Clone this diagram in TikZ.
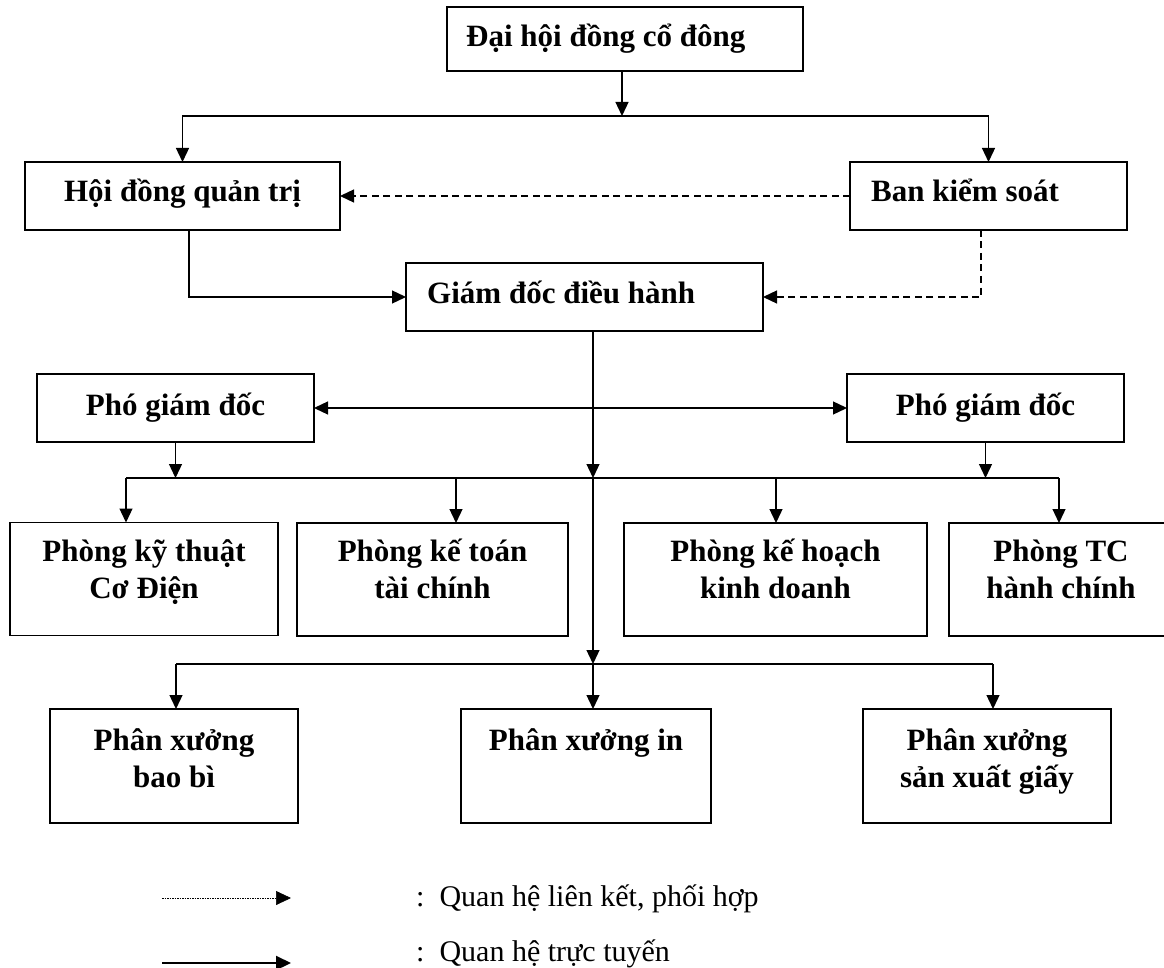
\documentclass[tikz,border=0pt]{standalone}
\usepackage{fontspec}
\setmainfont{Liberation Serif}
\usetikzlibrary{arrows.meta}
\begin{document}
\begin{tikzpicture}[x=1pt,y=-1pt,
  box/.style={draw, line width=1.5pt, inner sep=0pt, outer sep=0pt},
  lbl/.style={font=\bfseries\fontsize{31}{37}\selectfont, inner sep=0pt, anchor=base},
  lgd/.style={font=\fontsize{30}{36}\selectfont, inner sep=0pt, anchor=base west},
  conn/.style={line width=1.3pt},
  arr/.style={conn, -{Triangle[length=14pt,width=13pt]}},
  darr/.style={arr, dash pattern=on 7pt off 4.5pt}]
\useasboundingbox (0,0) rectangle (1164,968);

% boxes
\node[box, minimum width=356pt, minimum height=64pt] (A) at (625,39) {};
\node[box, minimum width=315pt, minimum height=68pt] (B) at (182.5,196) {};
\node[box, minimum width=277pt, minimum height=68pt] (C) at (988.5,196) {};
\node[box, minimum width=357pt, minimum height=68pt] (D) at (584.5,297) {};
\node[box, minimum width=277pt, minimum height=68pt] (E) at (175.5,408) {};
\node[box, minimum width=277pt, minimum height=68pt] (F) at (985.5,408) {};
\node[box, minimum width=268pt, minimum height=113pt] (G1) at (144,579) {};
\node[box, minimum width=271pt, minimum height=113pt] (G2) at (432.5,579.5) {};
\node[box, minimum width=303pt, minimum height=113pt] (G3) at (775.5,579.5) {};
\node[box, minimum width=224pt, minimum height=113pt] (G4) at (1061,579.5) {};
\node[box, minimum width=248pt, minimum height=114pt] (H1) at (174,766) {};
\node[box, minimum width=250pt, minimum height=114pt] (H2) at (586,766) {};
\node[box, minimum width=248pt, minimum height=114pt] (H3) at (987,766) {};

% texts
\node[lbl, anchor=base west] (tA) at (466,47) {Đại hội đồng cổ đông};
\node[lbl] (tB) at (182.5,202) {Hội đồng quản trị};
\node[lbl, anchor=base west] (tC) at (871,202) {Ban kiểm soát};
\node[lbl, anchor=base west] (tD) at (427,303) {Giám đốc điều hành};
\node[lbl] (tE) at (175.5,415) {Phó giám đốc};
\node[lbl] (tF) at (985.5,415) {Phó giám đốc};
\node[lbl] (tG1a) at (144,561) {Phòng kỹ thuật};
\node[lbl] (tG1b) at (144,598) {Cơ Điện};
\node[lbl] (tG2a) at (432.5,561) {Phòng kế toán};
\node[lbl] (tG2b) at (432.5,598) {tài chính};
\node[lbl] (tG3a) at (775.5,561) {Phòng kế hoạch};
\node[lbl] (tG3b) at (775.5,598) {kinh doanh};
\node[lbl] (tG4a) at (1061,561) {Phòng TC};
\node[lbl] (tG4b) at (1061,598) {hành chính};
\node[lbl] (tH1a) at (174,750) {Phân xưởng};
\node[lbl] (tH1b) at (174,787) {bao bì};
\node[lbl] (tH2a) at (586,750) {Phân xưởng in};
\node[lbl] (tH3a) at (987,750) {Phân xưởng};
\node[lbl] (tH3b) at (987,787) {sản xuất giấy};

% junctions
\coordinate (j0) at (622,116);
\coordinate (j1) at (593,478);
\coordinate (j2) at (593,664);
\coordinate (m) at (586,408);
\coordinate (b1L) at (126,478);
\coordinate (b1R) at (1059,478);
\coordinate (b2L) at (176,664);
\coordinate (b2R) at (993,664);

% top level
\draw[arr] (A.south -| j0) -- (j0);
\draw[arr] (j0) -| (B.north);
\draw[arr] (j0) -| (C.north);
\draw[darr] (C.west) -- (B.east);
\draw[arr] ([xshift=6.5pt]B.south) |- (D.west);
\draw[darr] ([xshift=-7.5pt]C.south) |- (D.east);

% director to deputies
\draw[arr] (D.south -| j1) -- (j1);
\draw[arr] (m) -- (E.east);
\draw[arr] (m) -- (F.west);
\draw[arr] (E.south) -- (E.south |- b1L);
\draw[arr] (F.south) -- (F.south |- b1L);

% bus 1 to departments
\draw[conn] (b1L) -- (b1R);
\draw[arr] (b1L) -- (b1L |- G1.north);
\draw[arr] (456,478) -- (456,523);
\draw[arr] (776,478) -- (776,523);
\draw[arr] (b1R) -- (b1R |- G4.north);

% to workshops
\draw[arr] (j1) -- (j2);
\draw[conn] (b2L) -- (b2R);
\draw[arr] (b2L) -- (b2L |- H1.north);
\draw[arr] (j2) -- (j2 |- H2.north);
\draw[arr] (b2R) -- (b2R |- H3.north);

% legend
\coordinate (l1a) at (162,898);
\coordinate (l1b) at (291,898);
\coordinate (l2a) at (162,963);
\coordinate (l2b) at (291,963);
\draw[line width=0.7pt, dash pattern=on 1.5pt off 1pt, -{Triangle[length=15pt,width=14pt]}] (l1a) -- (l1b);
\draw[line width=2.2pt, -{Triangle[length=15pt,width=14pt]}] (l2a) -- (l2b);
\node[lgd] (k1) at (416,906) {:\ \ Quan hệ liên kết, phối hợp};
\node[lgd] (k2) at (416,961) {:\ \ Quan hệ trực tuyến};
\end{tikzpicture}
\end{document}
